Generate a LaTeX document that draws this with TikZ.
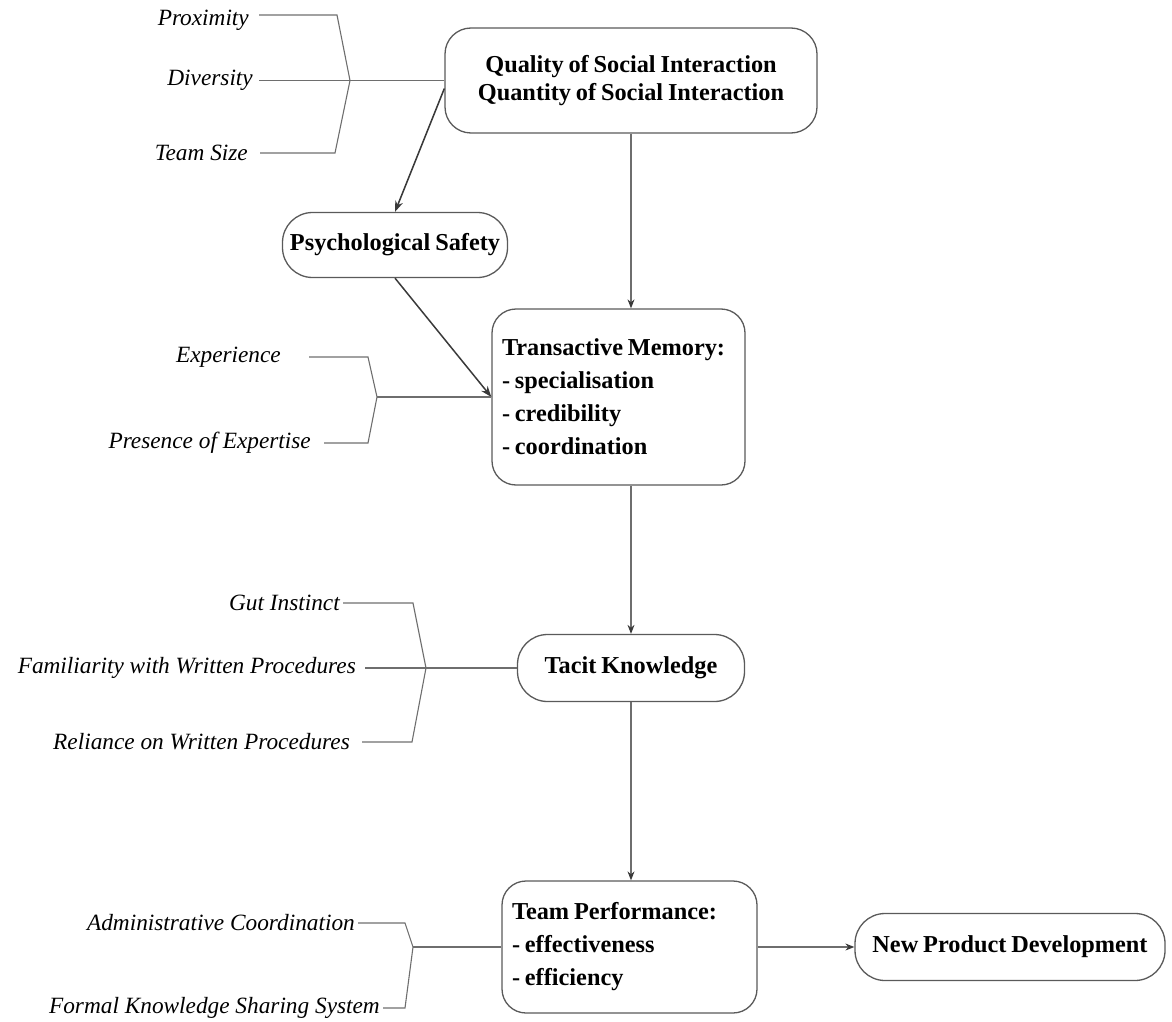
\documentclass[tikz,border=0pt]{standalone}
\usepackage{fontspec}
\setmainfont{Liberation Serif}[BoldFeatures={WordSpace=0.8}]
\usetikzlibrary{arrows.meta,calc}
\definecolor{boxgray}{HTML}{5A5A5A}
\definecolor{linegray}{HTML}{6E6E6E}
\definecolor{tipgray}{HTML}{3A3A3A}
\begin{document}
\begin{tikzpicture}[x=1pt,y=-1pt,
  box/.style={draw=boxgray, line width=1.3pt, fill=white, inner sep=0pt,
    font=\bfseries\fontsize{24.3}{28.5}\selectfont},
  pill/.style={box, rounded corners=30pt},
  listbox/.style={box, rounded corners=24pt, align=flush left, inner xsep=10pt,
    font=\bfseries\fontsize{24.3}{33}\selectfont},
  factor/.style={anchor=east, inner sep=0pt,
    font=\itshape\fontsize{23.3}{28}\selectfont},
  conn/.style={draw=linegray, line width=1.1pt},
  flow/.style={draw=linegray, line width=1.1pt,
    -{Stealth[length=9pt,width=7pt,color=tipgray]}},
  link/.style={draw=tipgray, line width=1.5pt,
    -{Stealth[length=11pt,width=8pt]}},
]
\useasboundingbox (0,0) rectangle (1172,1022);

% main chain of constructs
\node[box, rounded corners=26pt, align=center, minimum width=372pt,
  minimum height=105pt] (q) at (631,80.5)
  {Quality of Social Interaction\\Quantity of Social Interaction};
\node[pill, minimum width=225pt, minimum height=65pt] (ps) at (395,245)
  {Psychological Safety};
\node[listbox, text width=233pt, minimum height=176pt] (tm) at (618.5,397)
  {Transactive Memory:\\- specialisation\\- credibility\\- coordination};
\node[pill, minimum width=227pt, minimum height=67pt] (tk) at (631,668)
  {Tacit Knowledge};
\node[listbox, text width=235pt, minimum height=132pt] (tp) at (629.5,947)
  {Team Performance:\\- effectiveness\\- efficiency};
\node[pill, minimum width=310pt, minimum height=67pt] (npd) at (1010,947)
  {New Product Development};

% flows between constructs
\draw[flow] (q.south) -- (q.south |- tm.north);
\draw[flow] (tm.south -| tk.north) -- (tk.north);
\draw[flow] (tk.south) -- (tk.south |- tp.north);
\draw[flow] (tp.east) -- (npd.west);
\draw[link] ($(q.west)+(0,8)$) -- (ps.north);
\draw[link] (ps.south) -- (tm.west);

% antecedents of social interaction
\node[factor] (prox) at (249,20) {Proximity};
\node[factor] (div) at (253,80.5) {Diversity};
\node[factor] (ts) at (248,153) {Team Size};
\coordinate (a1) at (337,15);
\coordinate (a2) at (350,80.5);
\coordinate (a3) at (335,153);
\draw[conn, shorten <=10pt, shorten >=12pt]
  (prox.east |- a1) -- (a1) -- (a2) -- (a3) -- (ts.east);
\draw[conn, shorten <=6pt] (div.east) -- (q.west);

% antecedents of transactive memory
\node[factor] (exp) at (281,357) {Experience};
\node[factor] (pre) at (311,443) {Presence of Expertise};
\coordinate (b1) at (368,357);
\coordinate (b2) at (377,397);
\coordinate (b3) at (368,443);
\draw[conn, shorten <=28pt, shorten >=13pt]
  (exp.east) -- (b1) -- (b2) -- (b3) -- (pre.east);
\draw[conn] (b2) -- (tm.west);

% antecedents of tacit knowledge
\node[factor] (gut) at (340,603) {Gut Instinct};
\node[factor] (fam) at (356,668) {Familiarity with Written Procedures};
\node[factor] (rel) at (350,742) {Reliance on Written Procedures};
\coordinate (c1) at (413,603);
\coordinate (c2) at (426,668);
\coordinate (c3) at (412,742);
\draw[conn, shorten <=3pt, shorten >=12pt]
  (gut.east) -- (c1) -- (c2) -- (c3) -- (rel.east);
\draw[conn, shorten <=9pt] (fam.east) -- (tk.west);

% antecedents of team performance
\node[factor] (adm) at (355,923) {Administrative Coordination};
\node[factor] (fks) at (380,1008) {Formal Knowledge Sharing System};
\coordinate (d1) at (405,923);
\coordinate (d2) at (413,947);
\coordinate (d3) at (405,1008);
\draw[conn, shorten <=3pt, shorten >=3pt]
  (adm.east) -- (d1) -- (d2) -- (d3) -- (fks.east);
\draw[conn] (d2) -- (tp.west);
\end{tikzpicture}
\end{document}
